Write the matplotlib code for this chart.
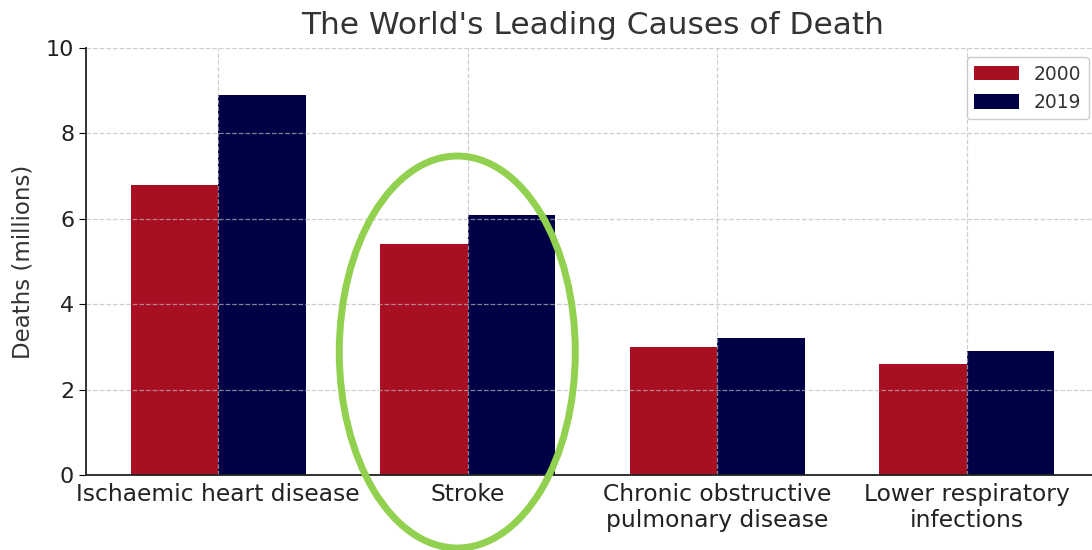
import matplotlib
matplotlib.use('Agg')
import numpy as np
import matplotlib.pyplot as plt
from matplotlib.patches import Ellipse

CAUSES = ['Ischaemic heart disease', 'Stroke',
          'Chronic obstructive\npulmonary disease', 'Lower respiratory\ninfections']
DEATHS_2000 = [6.8, 5.4, 3.0, 2.6]
DEATHS_2019 = [8.9, 6.1, 3.2, 2.9]

RED  = '#a80f22'
NAVY = '#000046'
BAR_W = 0.35

fig = plt.figure(figsize=(10.92, 5.5), dpi=100)
ax = fig.add_axes([86 / 1092, 75 / 550, 1013 / 1092, 427 / 550])

x = np.arange(len(CAUSES))
ax.bar(x - BAR_W / 2, DEATHS_2000, BAR_W, color=RED, label='2000')
ax.bar(x + BAR_W / 2, DEATHS_2019, BAR_W, color=NAVY, label='2019')

ax.set_xlim(-0.53, 3.53)
ax.set_ylim(0, 10)
ax.set_xticks(x)
ax.set_xticklabels(CAUSES, fontsize=16.8, color='#222222', linespacing=1.15)
ax.tick_params(axis='x', length=0, pad=6)
ax.tick_params(axis='y', labelsize=16, labelcolor='#222222', length=5)
ax.set_ylabel('Deaths (millions)', fontsize=16.5, color='#333333', labelpad=8)
ax.set_title("The World's Leading Causes of Death", fontsize=22.5,
             color='#333333', pad=10)

ax.grid(True, color='#bbbbbb', linestyle='--', linewidth=0.9, alpha=0.7)
for s in ('top', 'right'):
    ax.spines[s].set_visible(False)
for s in ('left', 'bottom'):
    ax.spines[s].set_color('#222222')
    ax.spines[s].set_linewidth(1.3)

ax.legend(loc='upper right', bbox_to_anchor=(1089 / 1092, 493 / 550),
          bbox_transform=fig.transFigure, borderaxespad=0, fontsize=13.5,
          handlelength=2.4, handleheight=0.85, labelcolor='#333333',
          fancybox=True, framealpha=1)

# highlight around the Stroke group
ax.add_patch(Ellipse((0.958, 2.88), 0.946, 9.18, fill=False,
                     edgecolor='#92d050', linewidth=5, clip_on=False, zorder=5))

fig.savefig('out.png', dpi=100)
